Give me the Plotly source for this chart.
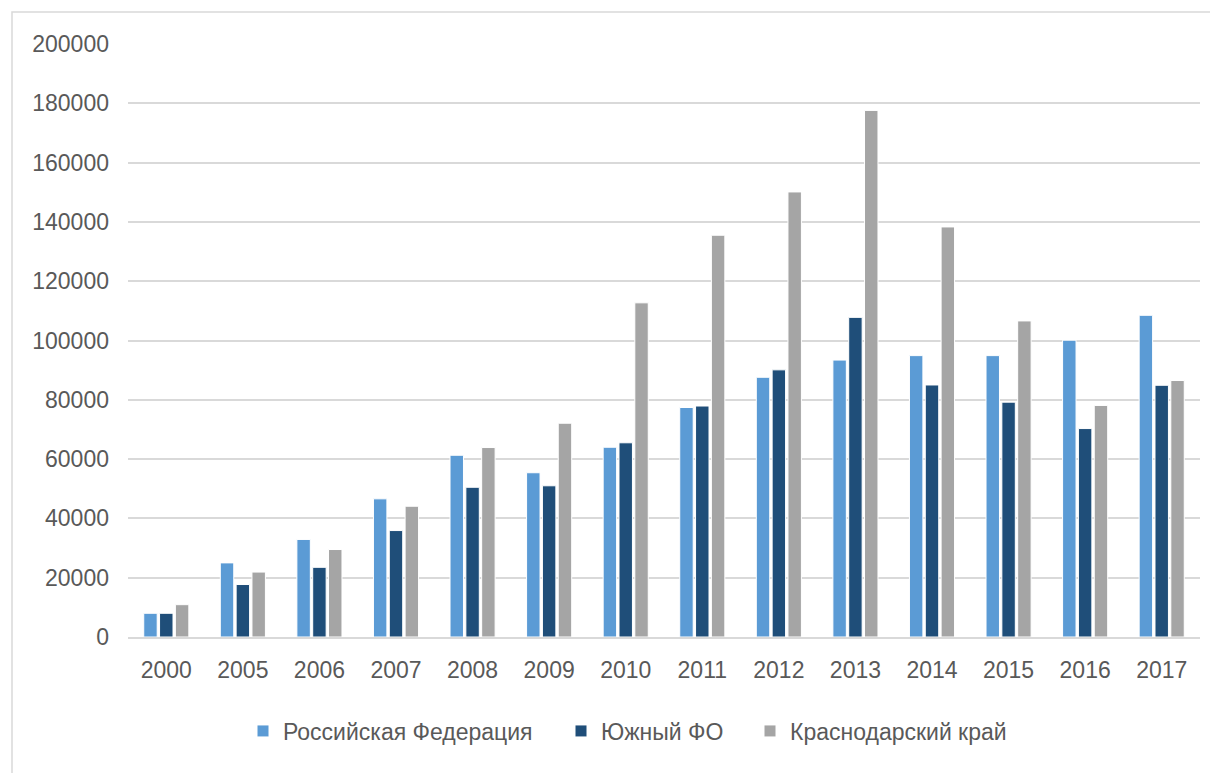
import plotly.graph_objects as go

years = ["2000", "2005", "2006", "2007", "2008", "2009", "2010", "2011",
         "2012", "2013", "2014", "2015", "2016", "2017"]
rf = [8000, 25000, 32900, 46600, 61300, 55400, 64000, 77400,
      87600, 93400, 94900, 94900, 100100, 108500]
ufo = [8000, 17700, 23500, 35900, 50500, 51000, 65500, 77900,
       90100, 107800, 85000, 79200, 70300, 84900]
kk = [10900, 21900, 29500, 44100, 63900, 72100, 112700, 135500,
      150100, 177600, 138300, 106600, 78100, 86500]

names = ["Российская Федерация", "Южный ФО", "Краснодарский край"]
colors = ["#5B9BD5", "#1F4E79", "#A5A5A5"]
legend_ids = ["legend", "legend2", "legend3"]
legend_sq_center = [263, 581, 770]  # reference pixel x of legend squares

OFF = 8  # page body margin
W, H = 1218 - OFF, 773 - OFF
ml = 128 - OFF
mt = 44 - OFF
mr = W - (1200 - OFF)
mb = H - (637 - OFF)
pw, ph = W - ml - mr, H - mt - mb


def px_x(p):
    return (p - OFF - ml) / pw


def px_y(p):
    return (H - mb - (p - OFF)) / ph


fig = go.Figure()
for name, vals, col, lid in zip(names, [rf, ufo, kk], colors, legend_ids):
    fig.add_trace(go.Bar(
        x=years, y=vals, name=name, legend=lid,
        marker=dict(color=col, line=dict(color="#FFFFFF", width=1)),
    ))

legend_common = dict(orientation="h", yanchor="middle", y=px_y(731), xanchor="left",
                     font=dict(size=23, color="#595959"), itemwidth=30,
                     bgcolor="rgba(0,0,0,0)", borderwidth=0)

layout_legends = {}
for lid, cx in zip(legend_ids, legend_sq_center):
    layout_legends[lid] = dict(legend_common, x=px_x(cx - 20))

fig.update_layout(
    width=W, height=H,
    margin=dict(l=ml, r=mr, t=mt, b=mb, pad=0),
    paper_bgcolor="#FFFFFF", plot_bgcolor="#FFFFFF",
    barmode="group", bargap=0.38, bargroupgap=0.15,
    font=dict(family="Liberation Sans", size=23, color="#595959"),
    showlegend=True,
    xaxis=dict(showgrid=False, showline=True, linecolor="#D9D9D9", linewidth=1.5,
               ticks="", ticklabelstandoff=12, tickfont=dict(size=23, color="#595959")),
    yaxis=dict(range=[0, 200000], dtick=20000, showgrid=True, gridcolor="#D9D9D9",
               gridwidth=1.5, zeroline=False, showline=False, ticks="",
               ticklabelstandoff=18, tickformat="d",
               tickfont=dict(size=23, color="#595959")),
    shapes=[dict(type="rect", xref="paper", yref="paper",
                 x0=px_x(12), x1=px_x(1260), y0=px_y(820), y1=px_y(12),
                 line=dict(color="#D9D9D9", width=1.5), fillcolor="rgba(0,0,0,0)",
                 layer="below")],
    **layout_legends,
)

fig.write_html("out.html")
